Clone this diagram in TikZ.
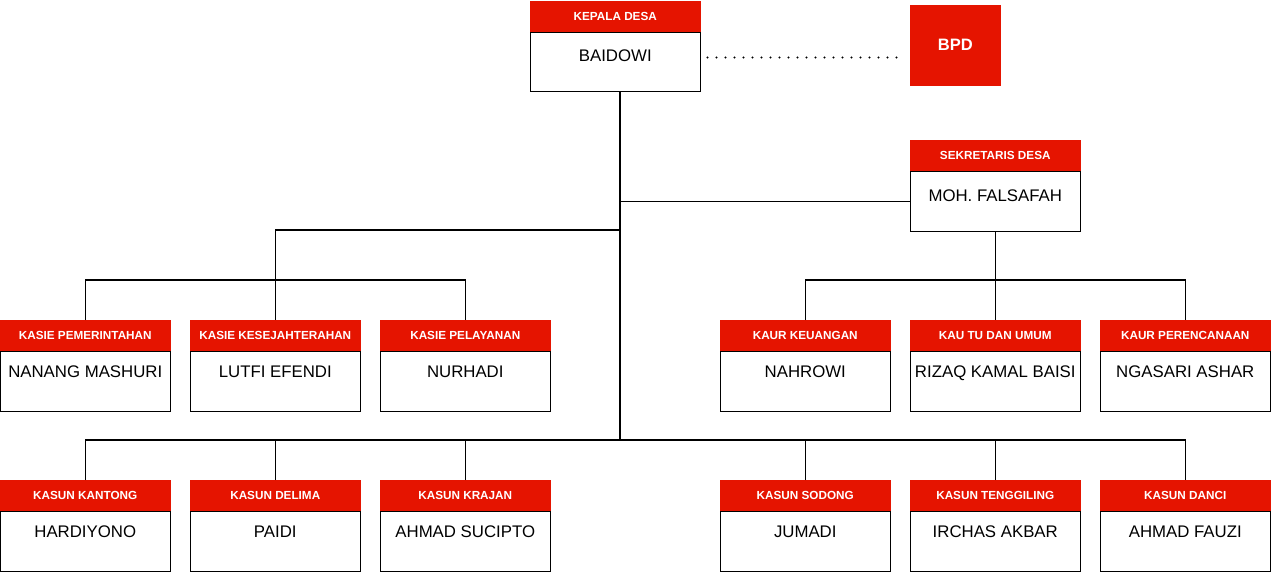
\documentclass[tikz,border=0pt]{standalone}
\usepackage{fontspec}
\setmainfont{Liberation Sans}
\usetikzlibrary{positioning}
\definecolor{orgred}{RGB}{229,20,0}

\begin{document}
\begin{tikzpicture}[
    x=0.75pt, y=-0.75pt,
    node distance=0pt,
    head/.style={rectangle, fill=orgred, draw=orgred, anchor=north west, minimum width=127.5pt, minimum height=22.5pt, inner sep=0pt, text=white, font=\fontsize{8.8}{10}\selectfont\bfseries},
    body/.style={rectangle, draw=black, line width=0.8pt, minimum width=127.5pt, minimum height=45pt, inner sep=0pt, text height=8.9pt, text depth=15pt, font=\fontsize{12.6}{14}\selectfont},
    link/.style={line width=0.8pt},
    dots/.style={line width=1.7pt, line cap=round, dash pattern=on 0pt off 6.75pt, shorten <=5pt, shorten >=5pt}
]
\useasboundingbox (0,0) rectangle (1271,572);

% top
\node[head] (kades) at (530,1) {KEPALA DESA};
\node[body, below=of kades, minimum height=44.25pt, text depth=9.75pt] (kadesb) {BAIDOWI};
\node[head, minimum width=67.5pt, minimum height=60pt, font=\fontsize{12.4}{14}\selectfont\bfseries] (bpd) at (910,5) {BPD};

\node[head] (sekdes) at (910,140) {SEKRETARIS DESA};
\node[body, below=of sekdes, text depth=9pt] (sekdesb) {MOH. FALSAFAH};

% kasie
\node[head] (kasie1) at (0,320) {KASIE PEMERINTAHAN};
\node[body, below=of kasie1] (kasie1b) {NANANG MASHURI};
\node[head] (kasie2) at (190,320) {KASIE KESEJAHTERAHAN};
\node[body, below=of kasie2] (kasie2b) {LUTFI EFENDI};
\node[head] (kasie3) at (380,320) {KASIE PELAYANAN};
\node[body, below=of kasie3] (kasie3b) {NURHADI};

% kaur
\node[head] (kaur1) at (720,320) {KAUR KEUANGAN};
\node[body, below=of kaur1] (kaur1b) {NAHROWI};
\node[head] (kaur2) at (910,320) {KAU TU DAN UMUM};
\node[body, below=of kaur2] (kaur2b) {RIZAQ KAMAL BAISI};
\node[head] (kaur3) at (1100,320) {KAUR PERENCANAAN};
\node[body, below=of kaur3] (kaur3b) {NGASARI ASHAR};

% kasun
\node[head] (kasun1) at (0,480) {KASUN KANTONG};
\node[body, below=of kasun1] (kasun1b) {HARDIYONO};
\node[head] (kasun2) at (190,480) {KASUN DELIMA};
\node[body, below=of kasun2] (kasun2b) {PAIDI};
\node[head] (kasun3) at (380,480) {KASUN KRAJAN};
\node[body, below=of kasun3] (kasun3b) {AHMAD SUCIPTO};
\node[head] (kasun4) at (720,480) {KASUN SODONG};
\node[body, below=of kasun4] (kasun4b) {JUMADI};
\node[head] (kasun5) at (910,480) {KASUN TENGGILING};
\node[body, below=of kasun5] (kasun5b) {IRCHAS AKBAR};
\node[head] (kasun6) at (1100,480) {KASUN DANCI};
\node[body, below=of kasun6] (kasun6b) {AHMAD FAUZI};

% lines
\coordinate (trunk) at (620,440);
\coordinate (kasiejoin) at (620,230);
\coordinate (bus) at (0,280);

\draw[dots] (kadesb.mid east) -- (kadesb.mid east -| bpd.west);
\draw[link] (kadesb.south -| trunk) -- (trunk);
\draw[link] (sekdesb.west) -- (sekdesb.west -| trunk);

\draw[link] (kasiejoin) -| (kasie2.north);
\draw[link] (kasie1.north) |- (kasie3.north |- bus) -- (kasie3.north);

\draw[link] (sekdesb.south) -- (kaur2.north);
\draw[link] (kaur1.north) |- (kaur3.north |- bus) -- (kaur3.north);

\draw[link] (kasun1.north) |- (kasun6.north |- trunk) -- (kasun6.north);
\foreach \i in {2,...,5}
  \draw[link] (kasun\i.north) -- (kasun\i.north |- trunk);

\end{tikzpicture}
\end{document}
